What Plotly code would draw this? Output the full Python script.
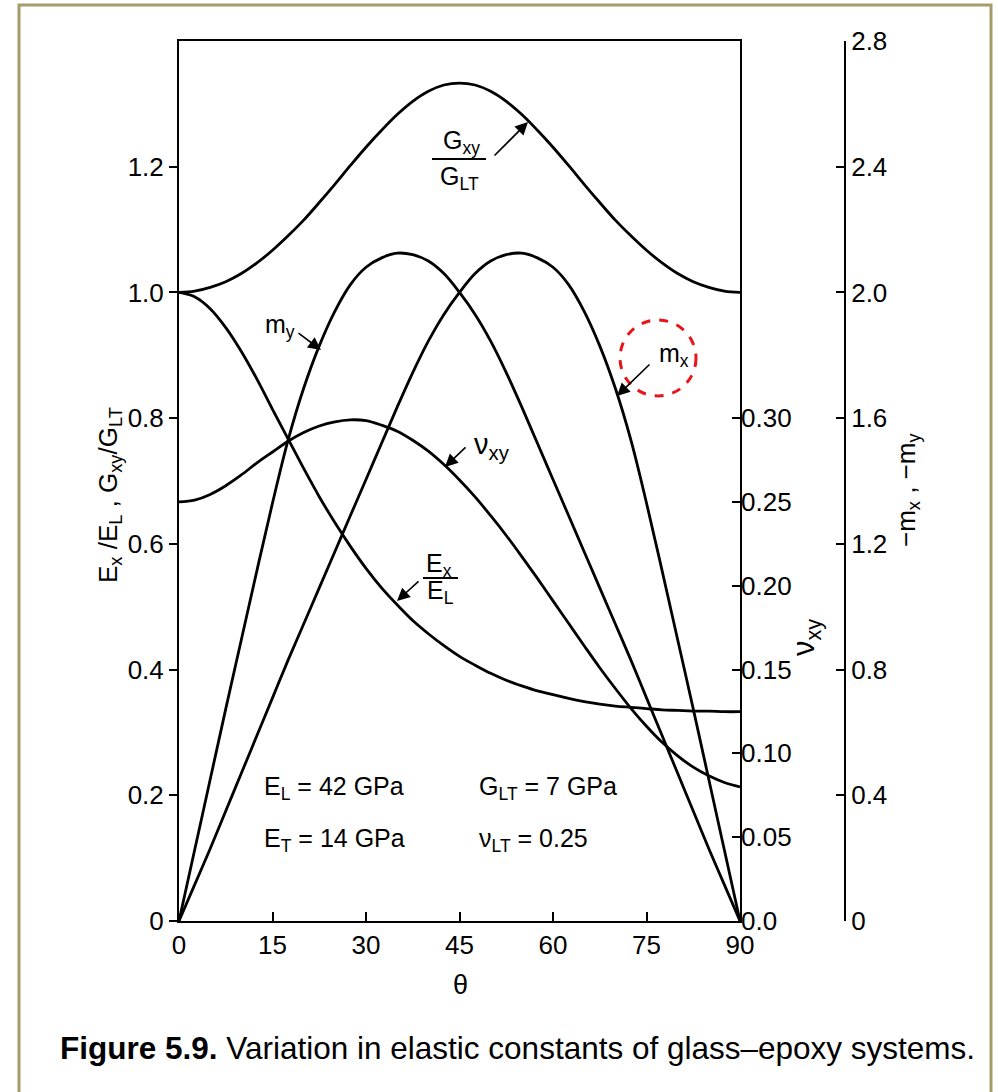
import plotly.graph_objects as go

# ---------------- data ----------------
theta = [0, 2.5, 5, 7.5, 10, 12.5, 15, 17.5, 20, 22.5, 25, 27.5, 30, 32.5, 35, 37.5,
         40, 42.5, 45, 47.5, 50, 52.5, 55, 57.5, 60, 62.5, 65, 67.5, 70, 72.5, 75,
         77.5, 80, 82.5, 85, 87.5, 90]
gxy_glt = [1.000, 1.002, 1.008, 1.017, 1.030, 1.047, 1.067, 1.090, 1.115, 1.143,
           1.172, 1.202, 1.231, 1.258, 1.283, 1.304, 1.320, 1.330, 1.333, 1.330,
           1.320, 1.304, 1.283, 1.258, 1.231, 1.202, 1.172, 1.143, 1.115, 1.090,
           1.067, 1.047, 1.030, 1.017, 1.008, 1.002, 1.000]
ex_el = [1.000, 0.993, 0.974, 0.944, 0.906, 0.862, 0.814, 0.767, 0.720, 0.675,
         0.634, 0.596, 0.561, 0.530, 0.503, 0.478, 0.457, 0.438, 0.421, 0.407,
         0.394, 0.383, 0.374, 0.366, 0.360, 0.354, 0.349, 0.345, 0.342, 0.340,
         0.338, 0.336, 0.335, 0.334, 0.334, 0.333, 0.333]
nu_xy = [0.2500, 0.2511, 0.2545, 0.2597, 0.2661, 0.2733, 0.2798, 0.2862, 0.2914, 0.2953,
         0.2978, 0.2990, 0.2985, 0.2958, 0.2922, 0.2868, 0.2803, 0.2723, 0.2631, 0.2530,
         0.2418, 0.2300, 0.2174, 0.2044, 0.1910, 0.1776, 0.1642, 0.1511, 0.1387, 0.1269,
         0.1162, 0.1066, 0.0985, 0.0918, 0.0866, 0.0826, 0.0800]
neg_mx = [0.000, 0.115, 0.230, 0.350, 0.470, 0.590, 0.710, 0.830, 0.945, 1.060,
          1.175, 1.290, 1.405, 1.520, 1.635, 1.745, 1.845, 1.930, 2.000, 2.060,
          2.100, 2.120, 2.125, 2.110, 2.080, 2.025, 1.940, 1.830, 1.695, 1.530,
          1.330, 1.115, 0.895, 0.675, 0.450, 0.225, 0.000]
neg_my = [0.000, 0.225, 0.450, 0.675, 0.895, 1.115, 1.330, 1.530, 1.695, 1.830,
          1.940, 2.025, 2.080, 2.110, 2.125, 2.120, 2.100, 2.060, 2.000, 1.930,
          1.845, 1.745, 1.635, 1.520, 1.405, 1.290, 1.175, 1.060, 0.945, 0.830,
          0.710, 0.590, 0.470, 0.350, 0.230, 0.115, 0.000]

x_ticks = [0, 15, 30, 45, 60, 75, 90]
left_ticks = [0, 0.2, 0.4, 0.6, 0.8, 1.0, 1.2]
left_labels = ["0", "0.2", "0.4", "0.6", "0.8", "1.0", "1.2"]
nu_ticks = [0, 0.05, 0.10, 0.15, 0.20, 0.25, 0.30]
nu_labels = ["0.0", "0.05", "0.10", "0.15", "0.20", "0.25", "0.30"]
m_ticks = [0, 0.4, 0.8, 1.2, 1.6, 2.0, 2.4, 2.8]
m_labels = ["0", "0.4", "0.8", "1.2", "1.6", "2.0", "2.4", "2.8"]

# ---------------- geometry helpers ----------------
W, H = 998, 1092
L, R, T, B = 179, 98, 41, 171
PW = W - L - R
PH = H - T - B


def px(x):
    return (x - L) / PW


def py(y):
    return (H - B - y) / PH


FONT = "Liberation Sans, Arial, sans-serif"
line_style = dict(color="black", width=2.8, shape="spline", smoothing=1.0)

fig = go.Figure()
fig.add_trace(go.Scatter(x=theta, y=gxy_glt, mode="lines", line=line_style, yaxis="y"))
fig.add_trace(go.Scatter(x=theta, y=ex_el, mode="lines", line=line_style, yaxis="y"))
fig.add_trace(go.Scatter(x=theta, y=nu_xy, mode="lines", line=line_style, yaxis="y2"))
fig.add_trace(go.Scatter(x=theta, y=neg_my, mode="lines", line=line_style, yaxis="y3"))
fig.add_trace(go.Scatter(x=theta, y=neg_mx, mode="lines", line=line_style, yaxis="y3"))

tickfont = dict(family=FONT, size=26, color="black")

fig.update_layout(
    width=W, height=H,
    margin=dict(l=L, r=R, t=T, b=B, autoexpand=False),
    paper_bgcolor="white", plot_bgcolor="white",
    showlegend=False,
    font=dict(family=FONT, color="black"),
    xaxis=dict(domain=[0, (740 - L) / PW], range=[0, 90], tickvals=x_ticks,
               ticks="inside", ticklen=9, tickwidth=1.5, tickcolor="black",
               showline=True, linewidth=2, linecolor="black", mirror=True,
               showgrid=False, zeroline=False, tickfont=tickfont, automargin=False),
    yaxis=dict(range=[0, 1.4], tickvals=left_ticks, ticktext=left_labels,
               ticks="outside", ticklen=8, tickwidth=1.5, tickcolor="black",
               showline=True, linewidth=2, linecolor="black", mirror=True,
               showgrid=False, zeroline=False, tickfont=tickfont, automargin=False),
    yaxis2=dict(overlaying="y", side="right", anchor="x", range=[0, 0.525],
                tickvals=nu_ticks, ticktext=nu_labels,
                ticks="inside", ticklen=8, tickwidth=1.5, tickcolor="black",
                showline=False, showgrid=False, zeroline=False, tickfont=tickfont,
                automargin=False),
    yaxis3=dict(overlaying="y", side="right", anchor="free", position=px(845),
                range=[0, 2.8], tickvals=m_ticks, ticktext=m_labels,
                ticks="inside", ticklen=8, tickwidth=1.5, tickcolor="black",
                showline=True, linewidth=2, linecolor="black",
                showgrid=False, zeroline=False, tickfont=tickfont, automargin=False),
)

annotations = []


def text(xp, yp, s, size=25, angle=0, xanchor="center"):
    annotations.append(dict(x=px(xp), y=py(yp), xref="paper", yref="paper",
                            text=s, showarrow=False, textangle=angle,
                            xanchor=xanchor, yanchor="middle",
                            font=dict(family=FONT, size=size, color="black")))


def arrow(hx, hy, tx, ty):
    annotations.append(dict(x=px(hx), y=py(hy), xref="paper", yref="paper",
                            text="", showarrow=True, ax=tx - hx, ay=ty - hy,
                            arrowhead=2, arrowsize=1.6, arrowwidth=1.6,
                            arrowcolor="black", standoff=0, startstandoff=0))


shapes = []


def hline(x0, x1, y):
    shapes.append(dict(type="line", xref="paper", yref="paper",
                       x0=px(x0), x1=px(x1), y0=py(y), y1=py(y),
                       line=dict(color="black", width=1.8)))


# Gxy/GLT label
text(461, 142, "G<sub>xy</sub>", 25)
hline(432, 486, 159)
text(459, 178, "G<sub>LT</sub>", 25)
arrow(528, 122, 493, 157)

# my label
text(280, 326, "m<sub>y</sub>", 25)
arrow(321, 350, 297, 332)

# mx label
text(674, 355, "m<sub>x</sub>", 25)
arrow(617, 396, 651, 363)

# nu_xy label
text(492, 446, "ν<sub>xy</sub>", 29)
arrow(445, 467, 467, 446)

# Ex/EL label
text(439, 565, "E<sub>x</sub>", 25)
hline(423, 458, 578)
text(440, 592, "E<sub>L</sub>", 25)
arrow(397, 601, 420, 580)

# material constants
text(262, 788, "E<sub>L</sub> = 42 GPa", 25, xanchor="left")
text(477, 788, "G<sub>LT</sub> = 7 GPa", 25, xanchor="left")
text(262, 840, "E<sub>T</sub> = 14 GPa", 25, xanchor="left")
text(477, 840, "ν<sub>LT</sub> = 0.25", 25, xanchor="left")

# axis titles
text(110, 495, "E<sub>x</sub> /E<sub>L</sub> , G<sub>xy</sub>/G<sub>LT</sub>", 26, angle=-90)
text(806, 638, "ν<sub>xy</sub>", 31, angle=-90)
text(907, 490, "−m<sub>x</sub> , −m<sub>y</sub>", 26, angle=-90)
text(460, 985, "θ", 27)

# caption
text(58, 1048, "<b>Figure 5.9.</b> Variation in elastic constants of glass–epoxy systems.",
     31.5, xanchor="left")

# red dashed highlight circle around the m_x label
shapes.append(dict(type="circle", xref="paper", yref="paper",
                   x0=px(620), x1=px(696), y0=py(396), y1=py(320),
                   line=dict(color="#E8141B", width=3, dash="dash")))

# outer border of the figure panel
shapes.append(dict(type="rect", xref="paper", yref="paper",
                   x0=px(19), x1=px(991), y0=py(1100), y1=py(5),
                   line=dict(color="#A59B6B", width=3), layer="below"))

fig.update_layout(annotations=annotations, shapes=shapes)
fig.write_html("out.html", config={"displayModeBar": False},
               post_script="document.body.style.margin='0px';")
